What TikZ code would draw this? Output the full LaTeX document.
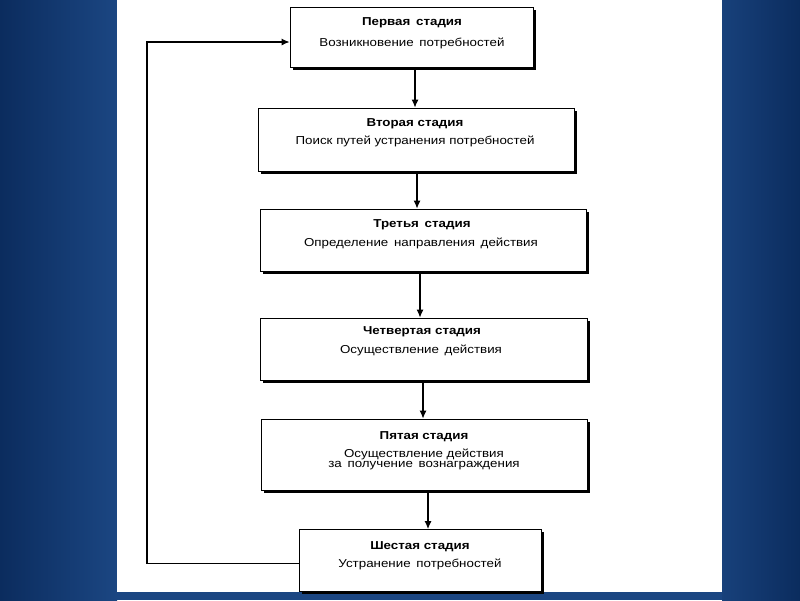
\documentclass[tikz,border=0pt]{standalone}
\usepackage{fontspec}
\setmainfont[FakeStretch=1.16]{Liberation Sans}
\usetikzlibrary{arrows.meta,shadows}
\definecolor{bgdark}{HTML}{0B2C5E}
\definecolor{bglight}{HTML}{1B4682}
\begin{document}
\begin{tikzpicture}[x=1pt,y=-1pt,
  stagebox/.style={draw=black, line width=0.9pt, fill=white, inner sep=0pt,
    drop shadow={shadow xshift=2.5pt, shadow yshift=-2.5pt, fill=black, opacity=1}},
  ttl/.style={anchor=base, inner sep=0pt, font=\bfseries\fontsize{11.5}{12}\selectfont},
  bdy/.style={anchor=base, inner sep=0pt, font=\fontsize{11.5}{12}\selectfont},
  arr/.style={draw=black, line width=1.1pt, -{Latex[length=8pt,width=7pt]}}]
\useasboundingbox (0,0) rectangle (800,600);
\shade[left color=bgdark, right color=bglight] (0,0) rectangle (117,600);
\shade[left color=bglight!80!bgdark, right color=bgdark] (722,0) rectangle (800,600);
\fill[bglight] (117,592) rectangle (722,600);
\fill[white] (117,0) rectangle (722,592);

\node[stagebox, minimum width=243pt, minimum height=60pt] (b1) at (411.5,37) {};
\node[stagebox, minimum width=316pt, minimum height=63pt] (b2) at (416,139.5) {};
\node[stagebox, minimum width=326pt, minimum height=62pt] (b3) at (423,240) {};
\node[stagebox, minimum width=327pt, minimum height=62pt] (b4) at (423.5,349) {};
\node[stagebox, minimum width=326pt, minimum height=71pt] (b5) at (424,454.5) {};
\node[stagebox, minimum width=242pt, minimum height=62pt] (b6) at (420,560.5) {};

\node[ttl] (t1) at (412,25) {Первая\enspace стадия};
\node[bdy] (s1) at (412,46) {Возникновение\enspace потребностей};
\node[ttl] (t2) at (415,126) {Вторая стадия};
\node[bdy] (s2) at (415,144) {Поиск путей устранения потребностей};
\node[ttl] (t3) at (422,227) {Третья\enspace стадия};
\node[bdy] (s3) at (421,246) {Определение\enspace направления\enspace действия};
\node[ttl] (t4) at (422,334) {Четвертая стадия};
\node[bdy] (s4) at (421,353) {Осуществление\enspace действия};
\node[ttl] (t5) at (424,439) {Пятая стадия};
\node[bdy] (s5a) at (424,457) {Осуществление действия};
\node[bdy] (s5b) at (424,467) {за\enspace получение\enspace вознаграждения};
\node[ttl] (t6) at (420,549) {Шестая стадия};
\node[bdy] (s6) at (420,567) {Устранение\enspace потребностей};

\coordinate (x1) at (415,0);
\coordinate (x2) at (417,0);
\coordinate (x3) at (420,0);
\coordinate (x4) at (423,0);
\coordinate (x5) at (428,0);
\coordinate (lp) at (147,0);
\draw[arr] (b1.south -| x1) -- (b2.north -| x1);
\draw[arr] (b2.south -| x2) -- (b3.north -| x2);
\draw[arr] (b3.south -| x3) -- (b4.north -| x3);
\draw[arr] (b4.south -| x4) -- (b5.north -| x4);
\draw[arr] (b5.south -| x5) -- (b6.north -| x5);
\draw[arr] ([yshift=-3pt]b6.west) -- ([yshift=-3pt]b6.west -| lp) |- ([yshift=-5pt]b1.west);
\end{tikzpicture}
\end{document}
